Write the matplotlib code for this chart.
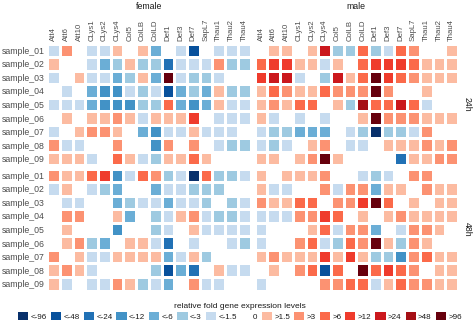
import numpy as np
import matplotlib
matplotlib.use("Agg")
import matplotlib.pyplot as plt
from matplotlib.colors import ListedColormap, BoundaryNorm
from matplotlib.patches import Patch

plt.rcParams['font.family'] = ['Liberation Sans', 'DejaVu Sans']

genes = ['Att4', 'Att6', 'Att10', 'CLys1', 'CLys2', 'CLys4', 'Col5', 'ColLB',
         'ColLD', 'Def1', 'Def3', 'Def7', 'SapL7', 'Thau1', 'Thau2', 'Thau4']
samples = ['sample_%02d' % i for i in range(1, 10)]

# fold change classes: -7 (<-96) ... 0 ... 7 (>96)
level_labels = ['<-96', '<-48', '<-24', '<-12', '<-6', '<-3', '<-1.5', '0',
                '>1.5', '>3', '>6', '>12', '>24', '>48', '>96']
level_colors = ['#08306b', '#08519c', '#2171b5', '#4292c6', '#6baed6', '#9ecae1',
                '#c6dbef', '#ffffff', '#fcbba1', '#fc9272', '#fb6a4a', '#ef3b2c',
                '#cb181d', '#a50f15', '#67000d']

female_24h = [
    [-1, 2, 0, -1, -1, 1, 0, 1, -3, 0, -1, -6, 0, -1, -1, -1],
    [1, 0, 0, -1, -3, -2, 1, -2, -2, -5, -1, -1, -1, 2, -2, -2],
    [-1, 0, 1, -1, -1, -3, -2, 1, -3, 7, -1, -2, -2, -1, 0, 0],
    [0, -1, 0, -3, -4, -4, -1, -2, -1, -6, -3, -2, -3, 1, -2, -2],
    [-1, -1, -1, -3, -4, -4, -4, -2, -2, 3, -3, -4, -3, 1, -1, -1],
    [0, 1, 0, 1, 1, 2, 1, -1, 1, 1, 1, 4, 0, -1, -1, -1],
    [-1, 0, 1, 2, 2, 1, 0, -3, -4, -1, -1, 1, -1, -1, -1, 0],
    [2, -1, -1, 0, 0, 2, 0, 0, -4, 2, 0, 2, 0, -1, -2, -2],
    [1, 1, 1, -1, 0, 3, 1, -1, -2, 1, 1, 3, 1, 0, 0, 0],
]
male_24h = [
    [0, 1, 1, 0, 1, 5, -2, -2, 3, -2, -1, 3, 2, 0, 0, 1],
    [3, 4, 4, 1, 1, -1, 1, 0, 3, 4, 4, 4, 3, 1, 1, 1],
    [4, 5, 5, -1, 0, -2, 5, 1, 3, 7, 4, 3, 2, 1, 1, 1],
    [1, 3, 2, 1, 1, 3, 2, 2, 2, 7, 2, 0, 0, 1, 0, 0],
    [1, 2, 1, 3, 3, 0, 1, -2, 6, 3, 3, 5, 3, -1, 0, 0],
    [1, -1, 0, -1, 0, -1, 0, 0, 1, 7, 2, 2, 2, 1, 1, 1],
    [-1, -2, -2, -3, -3, -3, 0, -1, -2, -7, -2, -2, -1, 2, 0, 0],
    [-1, -2, -1, 0, 1, 2, 0, -1, -1, 0, 1, 1, 1, 2, 1, 2],
    [1, 1, 0, 1, 2, 7, 1, 0, 0, 0, 0, -5, 1, 1, 2, 2],
]
female_48h = [
    [2, 1, 1, 3, 4, -4, -1, 3, 2, -2, -1, -7, 3, -2, -2, -1],
    [-1, 1, 0, -1, -2, -3, 0, 0, -3, -1, -1, -2, -2, -2, 0, 0],
    [0, -1, -1, 0, 0, -3, -2, -1, -1, -3, -1, -1, -2, 0, -2, -1],
    [0, 2, 2, 0, 0, 1, -3, 0, -2, -1, 1, 2, -1, -2, -2, -1],
    [0, 1, 0, 0, 0, -4, 0, 0, -2, -1, 0, 1, -1, -1, -1, -1],
    [0, 1, 2, -2, -3, 0, 1, 1, -1, -5, 0, -1, 0, 0, -1, -2],
    [2, 0, 1, -1, -1, 1, 1, 1, 1, -3, -1, 1, -2, 0, 0, 0],
    [1, 2, 1, -1, 0, 0, 0, 0, -2, -6, -3, -5, 0, 1, -1, -1],
    [1, -1, 0, -1, -1, 2, 1, -2, -1, -3, 0, 2, -1, -1, 0, 0],
]
male_48h = [
    [1, 0, 1, 1, 1, 2, 0, 0, -1, -2, -1, 0, 2, 2, 0, 0],
    [1, -1, -1, 0, 0, 2, -1, 2, 2, -3, 1, 1, 0, 2, 1, 1],
    [2, 1, 1, 3, 3, 0, 2, 2, 4, 7, 3, 0, 1, 0, 1, 1],
    [-1, -1, -1, 2, 2, 4, 3, 0, 1, 0, 1, 2, 1, 1, 1, 1],
    [-1, 0, 0, 0, 1, 3, -1, 2, 2, -3, 0, -1, 2, 2, 1, 0],
    [-1, 0, 0, 2, 3, -1, -2, 3, 2, 7, 1, -2, 2, 1, 0, 0],
    [1, 2, 1, 1, 1, 4, 1, 4, 1, -2, -2, -4, 2, 3, 1, 1],
    [0, 1, 0, 2, 3, -6, 3, 0, 7, 3, 4, 3, 2, 0, 1, 1],
    [-1, 0, 0, 0, 0, 2, 2, 3, 3, -1, 1, 3, 2, 2, 1, 1],
]

cmap = ListedColormap(level_colors)
norm = BoundaryNorm(np.arange(-7.5, 8.5, 1), cmap.N)

W, H = 474, 326
fig = plt.figure(figsize=(W / 100, H / 100), dpi=100)
fig.patch.set_facecolor('white')

def px_axes(x0, y0, x1, y1):
    return fig.add_axes([x0 / W, 1 - y1 / H, (x1 - x0) / W, (y1 - y0) / H])

cols = [(47.3, 250.5), (254.7, 457.9)]
rows = [(43.5, 165.5), (168.5, 290.5)]
panels = [[female_24h, male_24h], [female_48h, male_48h]]
sexes = ['female', 'male']
times = ['24h', '48h']

for r, (y0, y1) in enumerate(rows):
    for c, (x0, x1) in enumerate(cols):
        ax = px_axes(x0, y0, x1, y1)
        vals = np.array(panels[r][c])
        ax.pcolormesh(vals, cmap=cmap, norm=norm, edgecolors='white', linewidth=0.9)
        ax.set_xlim(0, len(genes))
        ax.set_ylim(len(samples), 0)
        for s in ax.spines.values():
            s.set_visible(False)
        ax.tick_params(length=0, pad=2)
        if r == 0:
            ax.xaxis.tick_top()
            ax.set_xticks(np.arange(len(genes)) + 0.5)
            ax.set_xticklabels(genes, rotation=90, fontsize=5.6, color='#4d4d4d')
            ax.set_title(sexes[c], fontsize=6.3, color='#1a1a1a', pad=25)
        else:
            ax.set_xticks([])
        if c == 0:
            ax.set_yticks(np.arange(len(samples)) + 0.5)
            ax.set_yticklabels(samples, fontsize=6.3, color='#4d4d4d')
        else:
            ax.set_yticks([])
            ax.text(1.045, 0.5, times[r], transform=ax.transAxes, rotation=-90,
                    ha='center', va='center', fontsize=6.3, color='#1a1a1a')

handles = [Patch(facecolor=col, edgecolor='none', label=lab)
           for col, lab in zip(level_colors, level_labels)]
leg = fig.legend(handles=handles, loc='center', bbox_to_anchor=(240 / W, 1 - 312 / H),
                 ncol=15, frameon=False, fontsize=5.8, title='relative fold gene expression levels',
                 title_fontsize=6, handlelength=1.25, handleheight=1.25, handletextpad=0.3,
                 columnspacing=0.5, borderpad=0.1, labelspacing=0.2)
leg.get_title().set_color('#1a1a1a')
for t in leg.get_texts():
    t.set_color('#1a1a1a')

fig.savefig('out.png', dpi=100)
